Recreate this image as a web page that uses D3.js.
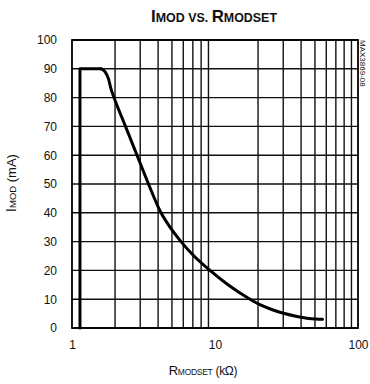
<!DOCTYPE html>
<html>
<head>
<meta charset="utf-8">
<script src="https://cdn.jsdelivr.net/npm/d3@7"></script>
<style>
  html, body { margin: 0; padding: 0; background: #fff; }
  svg { display: block; font-family: "Liberation Sans", Arial, sans-serif; }
</style>
</head>
<body>
<div id="chart"></div>
<script>
// NOTE: data
const rModset = [1.137, 1.137, 1.6, 1.7, 1.8, 1.874, 1.967, 2.367, 2.848, 3.427, 4.193, 4.846, 5.783, 7.131, 9.226, 12.33, 17.57, 20.81, 24.64, 30.13, 37.45, 43.99, 50.85, 56.46];
const iMod = [0, 90, 90, 89, 86.5, 83, 80, 70, 60, 50, 40, 35, 30, 25, 20, 15, 10, 8, 6.5, 5.1, 4.0, 3.4, 3.1, 3.0];
const xTicks = [1, 10, 100];
const yTicks = [0, 10, 20, 30, 40, 50, 60, 70, 80, 90, 100];
const xGrid = [2, 3, 4, 5, 6, 7, 8, 9, 20, 30, 40, 50, 60, 70, 80, 90];

// NOTE: layout
const W = 370, H = 384;
const margin = { top: 40, right: 12, bottom: 56, left: 72 };
const width = W - margin.left - margin.right;
const height = H - margin.top - margin.bottom;

const svg = d3.select('#chart').append('svg').attr('width', W).attr('height', H);
const g = svg.append('g').attr('transform', `translate(${margin.left},${margin.top})`);

const x = d3.scaleLog().domain([1, 100]).range([0, width]);
const y = d3.scaleLinear().domain([0, 100]).range([height, 0]);

// grid
g.append('g')
  .selectAll('line')
  .data(xGrid)
  .join('line')
  .attr('x1', d => x(d)).attr('x2', d => x(d))
  .attr('y1', 0).attr('y2', height)
  .attr('stroke', '#111').attr('stroke-width', 1.4);

g.append('g')
  .selectAll('line')
  .data(yTicks)
  .join('line')
  .attr('x1', 0).attr('x2', width)
  .attr('y1', d => y(d)).attr('y2', d => y(d))
  .attr('stroke', '#111').attr('stroke-width', 1.4);

g.append('rect')
  .attr('width', width).attr('height', height)
  .attr('fill', 'none').attr('stroke', '#000').attr('stroke-width', 1.8);

// axes
const xAxis = g.append('g')
  .attr('transform', `translate(0,${height})`)
  .call(d3.axisBottom(x).tickValues(xTicks).tickFormat(d3.format('d')).tickSize(0).tickPadding(12));
xAxis.select('.domain').remove();
xAxis.selectAll('text').attr('font-size', 12).attr('fill', '#111').attr('font-family', null);

const yAxis = g.append('g')
  .call(d3.axisLeft(y).tickValues(yTicks).tickSize(0).tickPadding(15));
yAxis.select('.domain').remove();
yAxis.selectAll('text').attr('font-size', 12).attr('fill', '#111').attr('font-family', null);

// curve: vertical rise + flat top drawn straight, roll-off smoothed
const pts = rModset.map((r, i) => [r, iMod[i]]);
const line = d3.line()
  .x(d => x(d[0]))
  .y(d => y(d[1]));

g.append('path')
  .attr('d', line.curve(d3.curveLinear)(pts.slice(0, 3)))
  .attr('fill', 'none')
  .attr('stroke', '#000')
  .attr('stroke-width', 3)
  .attr('stroke-linejoin', 'round')
  .attr('stroke-linecap', 'round');

g.append('path')
  .attr('d', line.curve(d3.curveMonotoneX)(pts.slice(2)))
  .attr('fill', 'none')
  .attr('stroke', '#000')
  .attr('stroke-width', 3)
  .attr('stroke-linejoin', 'round')
  .attr('stroke-linecap', 'round');

// title
const title = svg.append('text')
  .attr('x', 214).attr('y', 22)
  .attr('text-anchor', 'middle')
  .attr('font-weight', 'bold')
  .attr('textLength', 126)
  .attr('lengthAdjust', 'spacingAndGlyphs')
  .attr('fill', '#111');
title.append('tspan').attr('font-size', 17).text('I');
title.append('tspan').attr('font-size', 12.5).text('MOD VS. ');
title.append('tspan').attr('font-size', 17).text('R');
title.append('tspan').attr('font-size', 12.5).text('MODSET');

// x label
const xLabel = svg.append('text')
  .attr('x', 203).attr('y', 375)
  .attr('text-anchor', 'middle')
  .attr('letter-spacing', -0.3)
  .attr('fill', '#111');
xLabel.append('tspan').attr('font-size', 13).text('R');
xLabel.append('tspan').attr('font-size', 8.5).text('MODSET');
xLabel.append('tspan').attr('font-size', 12).text(' (kΩ)');

// y label
const yLabel = svg.append('text')
  .attr('transform', 'translate(16,183) rotate(-90)')
  .attr('text-anchor', 'middle')
  .attr('fill', '#111');
yLabel.append('tspan').attr('font-size', 14).text('I');
yLabel.append('tspan').attr('font-size', 9.5).text('MOD');
yLabel.append('tspan').attr('font-size', 13).text(' (mA)');

// side code
svg.append('text')
  .attr('transform', 'translate(360,40) rotate(90)')
  .attr('font-size', 8)
  .attr('fill', '#111')
  .text('MAX3869-08');
</script>
</body>
</html>
